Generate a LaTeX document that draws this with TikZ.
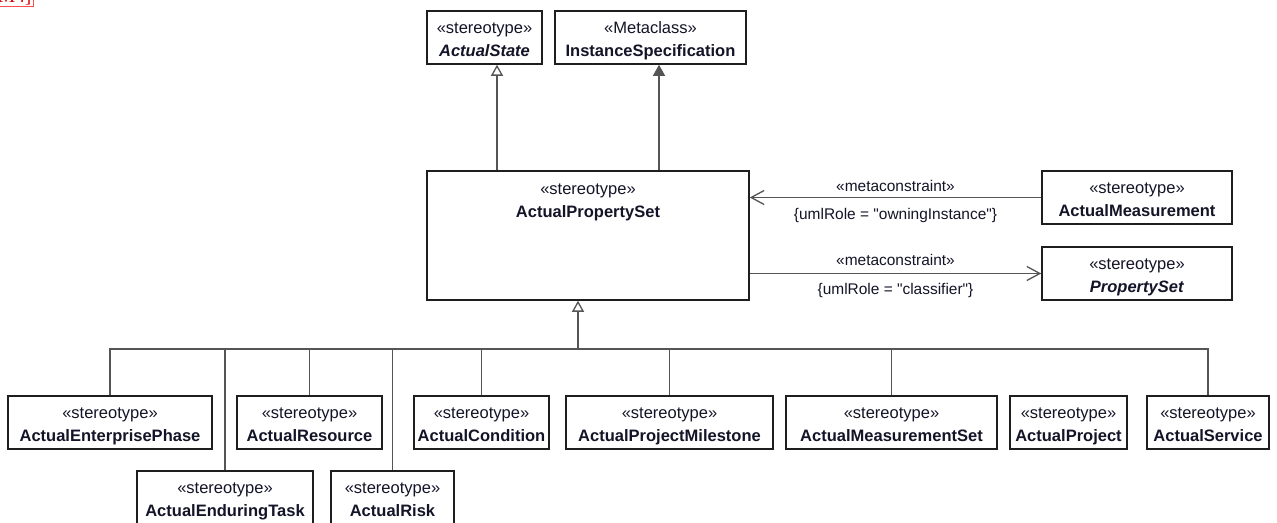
\documentclass[tikz,border=0pt]{standalone}
\usepackage{fontspec}
\setmainfont{Liberation Sans}
\newfontfamily\notefont{Liberation Serif}
\usetikzlibrary{arrows.meta}

\newcommand{\topstrut}{\rule{0pt}{12.2pt}}
\newcommand{\stereo}[1]{\topstrut«stereotype»\\\textbf{#1}\strut}
\newcommand{\stereoit}[1]{\topstrut«stereotype»\\\textbf{\textit{#1}}\strut}

\begin{document}
\begin{tikzpicture}[x=0.02cm,y=-0.02cm,
    umlbox/.style={shape=rectangle,draw=umlborder,line width=0.9pt,fill=white,inner sep=0pt,
        minimum height=1.06cm,align=center,text=umltext,font=\fontsize{9.4}{13}\selectfont},
    genline/.style={draw=umlline,line width=0.75pt},
    gen/.style={genline,-{Triangle[open,length=0.22cm,width=0.24cm]}},
    genfill/.style={genline,-{Triangle[length=0.22cm,width=0.24cm]}},
    meta/.style={genline,-{Straight Barb[length=0.26cm,width=0.28cm]}},
    metalabel/.style={text=umltext,font=\fontsize{8.8}{10}\selectfont,inner sep=2pt}]
    \definecolor{umlborder}{RGB}{30,30,30}
    \definecolor{umlline}{RGB}{85,85,85}
    \definecolor{umltext}{RGB}{20,20,40}
    \useasboundingbox (0,0) rectangle (1277,523);

    % note marker, cut at the page edge
    \node (note) [anchor=south west,draw=red!70,text=red!85!black,font=\notefont\fontsize{11}{12}\selectfont,inner sep=1pt] at (-4,7) {M4]};

    % top row
    \node[umlbox,minimum width=2.30cm] (state) at (484.5,37.5) {\stereoit{ActualState}};
    \node[umlbox,minimum width=3.82cm] (inst) at (650.5,37.5) {\topstrut«Metaclass»\\\textbf{InstanceSpecification}\strut};

    % middle
    \node[umlbox,minimum width=6.44cm,minimum height=2.58cm,
        label={[anchor=north,align=center,text=umltext,font=\fontsize{9.4}{13}\selectfont,yshift=-1pt]north:«stereotype»\strut\\\textbf{ActualPropertySet}\strut}] (aps) at (588,235.5) {};
    \node[umlbox,minimum width=3.80cm] (meas) at (1137,197.5) {\stereo{ActualMeasurement}};
    \node[umlbox,minimum width=3.80cm] (pset) at (1137,273.5) {\stereoit{PropertySet}};

    % bottom rows
    \node[umlbox,minimum width=4.08cm] (phase) at (110,422.5) {\stereo{ActualEnterprisePhase}};
    \node[umlbox,minimum width=2.90cm] (res) at (309.5,422.5) {\stereo{ActualResource}};
    \node[umlbox,minimum width=2.70cm] (cond) at (481.5,422.5) {\stereo{ActualCondition}};
    \node[umlbox,minimum width=4.14cm] (mile) at (669.5,422.5) {\stereo{ActualProjectMilestone}};
    \node[umlbox,minimum width=4.22cm] (mset) at (891.5,422.5) {\stereo{ActualMeasurementSet}};
    \node[umlbox,minimum width=2.34cm] (proj) at (1068.5,422.5) {\stereo{ActualProject}};
    \node[umlbox,minimum width=2.44cm] (serv) at (1208,422.5) {\stereo{ActualService}};
    \node[umlbox,minimum width=3.52cm] (task) at (225,497.5) {\stereo{ActualEnduringTask}};
    \node[umlbox,minimum width=2.46cm] (risk) at (392.5,497.5) {\stereo{ActualRisk}};

    % generalizations
    \draw[gen] ([xshift=0.25cm]state.south |- aps.north) -- ([xshift=0.25cm]state.south);
    \draw[genfill] ([xshift=0.17cm]inst.south |- aps.north) -- ([xshift=0.17cm]inst.south);
    \coordinate (bus) at (578,349);
    \draw[gen] (bus) -- (bus |- aps.south);
    \foreach \child in {phase,res,cond,mile,mset,serv,task,risk}
        \draw[genline] (\child.north) |- (bus);

    % metaconstraints
    \draw[meta] (meas.west) -- (meas.west -| aps.east)
        node[metalabel,midway,above=1pt] {«metaconstraint»}
        node[metalabel,midway,below=4pt] {\{umlRole = \textquotedbl owningInstance\textquotedbl\}};
    \draw[meta] (aps.east |- pset.west) -- (pset.west)
        node[metalabel,midway,above=2pt] {«metaconstraint»}
        node[metalabel,midway,below=3pt] {\{umlRole = \textquotedbl classifier\textquotedbl\}};
\end{tikzpicture}
\end{document}
